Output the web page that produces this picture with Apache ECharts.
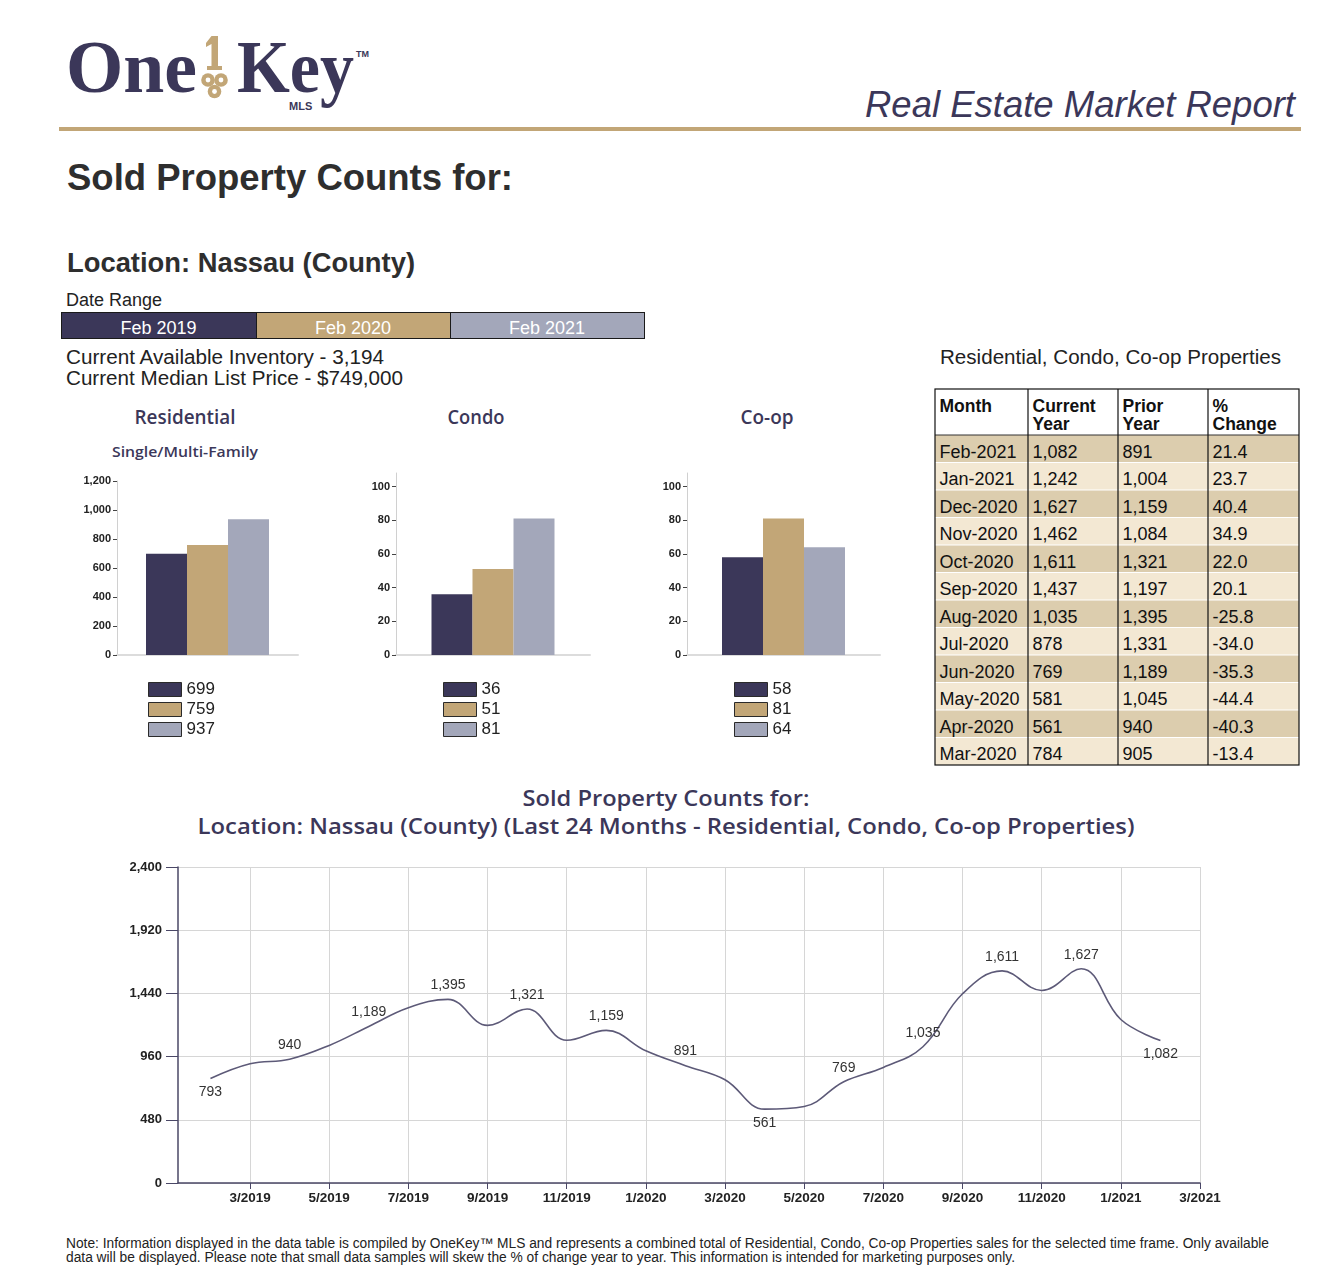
<!DOCTYPE html>
<html>
<head>
<meta charset="utf-8">
<script src="https://cdn.jsdelivr.net/npm/echarts@6/dist/echarts.min.js"></script>
<style>
  html, body { margin: 0; padding: 0; background: #ffffff; }
  #page { position: relative; width: 1329px; height: 1272px; overflow: hidden; background: #fff; }
  #overlay { position: absolute; left: 0; top: 0; }
  .chart { position: absolute; }
</style>
</head>
<body>
<div id="page">
  <svg id="overlay" width="1329" height="1272" xmlns="http://www.w3.org/2000/svg"></svg>
  <div id="resChart" class="chart" style="left:40px;top:460px;width:280px;height:320px;"></div>
  <div id="condoChart" class="chart" style="left:330px;top:460px;width:280px;height:320px;"></div>
  <div id="coopChart" class="chart" style="left:620px;top:460px;width:280px;height:320px;"></div>
  <div id="lineChart" class="chart" style="left:0px;top:840px;width:1329px;height:390px;"></div>
</div>
<script>
// ---------------- DATA ----------------
const dateRanges = ['Feb 2019', 'Feb 2020', 'Feb 2021'];

const residentialValues = [699, 759, 937];
const condoValues = [36, 51, 81];
const coopValues = [58, 81, 64];

const residentialTicks = [0, 200, 400, 600, 800, 1000, 1200];
const smallTicks = [0, 20, 40, 60, 80, 100];

const tableHeaders = [['Month'], ['Current', 'Year'], ['Prior', 'Year'], ['%', 'Change']];
const tableMonths = ['Feb-2021', 'Jan-2021', 'Dec-2020', 'Nov-2020', 'Oct-2020', 'Sep-2020',
                     'Aug-2020', 'Jul-2020', 'Jun-2020', 'May-2020', 'Apr-2020', 'Mar-2020'];
const tableCurrent = [1082, 1242, 1627, 1462, 1611, 1437, 1035, 878, 769, 581, 561, 784];
const tablePrior   = [891, 1004, 1159, 1084, 1321, 1197, 1395, 1331, 1189, 1045, 940, 905];
const tableChange  = ['21.4', '23.7', '40.4', '34.9', '22.0', '20.1', '-25.8', '-34.0', '-35.3', '-44.4', '-40.3', '-13.4'];

const lineMonths = ['2/2019', '3/2019', '4/2019', '5/2019', '6/2019', '7/2019', '8/2019', '9/2019',
                    '10/2019', '11/2019', '12/2019', '1/2020', '2/2020', '3/2020', '4/2020', '5/2020',
                    '6/2020', '7/2020', '8/2020', '9/2020', '10/2020', '11/2020', '12/2020', '1/2021', '2/2021'];
const lineValues = [793, 905, 940, 1045, 1189, 1331, 1395, 1197, 1321, 1084, 1159, 1004, 891,
                    784, 561, 581, 769, 878, 1035, 1437, 1611, 1462, 1627, 1242, 1082];
const xTickLabels = ['3/2019', '5/2019', '7/2019', '9/2019', '11/2019', '1/2020', '3/2020',
                     '5/2020', '7/2020', '9/2020', '11/2020', '1/2021', '3/2021'];

// ---------------- STYLE ----------------
const NAVY = '#3b3759', GOLD = '#c2a677', GRAY = '#a3a7ba';
const seriesColors = [NAVY, GOLD, GRAY];
const SANS = "'Liberation Sans', Arial, sans-serif";
const TITLE_FONT = "'Open Sans', 'Noto Sans', sans-serif";
const labelsBelow = new Set(['2/2019', '4/2020', '2/2021']);

const fmt = v => Number(v).toLocaleString('en-US');
const monthIndex = s => { const [m, y] = s.split('/').map(Number); return (y - 2019) * 12 + (m - 1); };

// ---------------- STATIC OVERLAY (SVG text) ----------------
const svg = document.getElementById('overlay');
const NS = 'http://www.w3.org/2000/svg';
function add(tag, attrs, text) {
  const e = document.createElementNS(NS, tag);
  for (const k in attrs) e.setAttribute(k, attrs[k]);
  if (text != null) e.textContent = text;
  svg.appendChild(e);
  return e;
}
function txt(x, y, s, o) {
  o = o || {};
  const a = { x: x, y: y, 'font-family': o.family || SANS, 'font-size': o.size || 18,
              fill: o.fill || '#222' };
  if (o.weight) a['font-weight'] = o.weight;
  if (o.style) a['font-style'] = o.style;
  if (o.anchor) a['text-anchor'] = o.anchor;
  if (o.len) { a.textLength = o.len; a.lengthAdjust = 'spacingAndGlyphs'; }
  return add('text', a, s);
}

// Logo
const SERIF = "'Liberation Serif', 'DejaVu Serif', serif";
txt(66, 92, 'One', { family: SERIF, size: 75, weight: 'bold', fill: NAVY, len: 131 });
txt(237, 92, 'Key', { family: SERIF, size: 75, weight: 'bold', fill: NAVY, len: 117 });
// key shaft ("1")
add('path', { d: 'M211.5 36 L218 36 L218 66 L222 66 L222 70 L207 70 L207 66 L211.5 66 L211.5 44 L206 47 L206 43 Z', fill: GOLD });
[[208, 80], [221, 80], [214.5, 91.5]].forEach(([cx, cy]) => add('circle', { cx: cx, cy: cy, r: 6.8, fill: GOLD }));
[[208, 80], [221, 80], [214.5, 91.5]].forEach(([cx, cy]) => add('circle', { cx: cx, cy: cy, r: 2.4, fill: '#ffffff' }));
txt(356, 57, 'TM', { size: 9, weight: 'bold', fill: NAVY });
txt(289, 110, 'MLS', { size: 11, weight: 'bold', fill: NAVY });

// Header right + rule
txt(1295, 117, 'Real Estate Market Report', { size: 36, style: 'italic', fill: NAVY, anchor: 'end', len: 430 });
add('rect', { x: 59, y: 127, width: 1242, height: 4, fill: GOLD });

// Headings
txt(67, 190, 'Sold Property Counts for:', { size: 36, weight: 'bold', fill: '#2e2e2e', len: 446 });
txt(67, 272, 'Location: Nassau (County)', { size: 27, weight: 'bold', fill: '#2e2e2e', len: 348 });
txt(66, 306, 'Date Range', { size: 18, fill: '#222' });

// Date range boxes
const boxX = [61, 256, 450, 644];
dateRanges.forEach((d, i) => {
  add('rect', { x: boxX[i] + 0.5, y: 312.5, width: boxX[i + 1] - boxX[i], height: 26, fill: seriesColors[i], stroke: '#1a1a1a', 'stroke-width': 1 });
  txt((boxX[i] + boxX[i + 1]) / 2, 333.5, d, { size: 18, fill: '#ffffff', anchor: 'middle' });
});

txt(66, 364, 'Current Available Inventory - 3,194', { size: 20, fill: '#222', len: 318 });
txt(66, 385, 'Current Median List Price - $749,000', { size: 20, fill: '#222', len: 337 });
txt(940, 364, 'Residential, Condo, Co-op Properties', { size: 20, fill: '#222', len: 341 });

// Bar chart titles
txt(185, 424, 'Residential', { family: TITLE_FONT, size: 19, weight: 600, fill: NAVY, anchor: 'middle', len: 101 });
txt(185, 457, 'Single/Multi-Family', { family: TITLE_FONT, size: 15, weight: 600, fill: NAVY, anchor: 'middle', len: 146 });
txt(476, 424, 'Condo', { family: TITLE_FONT, size: 19, weight: 600, fill: NAVY, anchor: 'middle', len: 57 });
txt(767, 424, 'Co-op', { family: TITLE_FONT, size: 19, weight: 600, fill: NAVY, anchor: 'middle', len: 53 });

// Line chart titles
txt(666, 806, 'Sold Property Counts for:', { family: TITLE_FONT, size: 22, weight: 600, fill: NAVY, anchor: 'middle', len: 287 });
txt(666, 834, 'Location: Nassau (County) (Last 24 Months - Residential, Condo, Co-op Properties)', { family: TITLE_FONT, size: 22, weight: 600, fill: NAVY, anchor: 'middle', len: 937 });

// Table
const colX = [935, 1028, 1118, 1208, 1299];
const tTop = 389, hdrBottom = 435, rowH = 27.5;
add('rect', { x: colX[0], y: tTop, width: colX[4] - colX[0], height: hdrBottom - tTop, fill: '#ffffff' });
tableMonths.forEach((m, i) => {
  const y = hdrBottom + i * rowH;
  add('rect', { x: colX[0], y: y, width: colX[4] - colX[0], height: rowH, fill: i % 2 === 0 ? '#dccdae' : '#f3e8d3' });
  if (i > 0) add('line', { x1: colX[0], x2: colX[4], y1: y, y2: y, stroke: '#ffffff', 'stroke-width': 1.2 });
  const cells = [m, fmt(tableCurrent[i]), fmt(tablePrior[i]), tableChange[i]];
  cells.forEach((c, j) => txt(colX[j] + 4.5, y + 22.5, c, { size: 18, fill: '#111' }));
});
tableHeaders.forEach((lines, j) => {
  lines.forEach((l, k) => txt(colX[j] + 4.5, 411.5 + k * 18, l, { size: 17.5, weight: 'bold', fill: '#111' }));
});
add('line', { x1: colX[0], x2: colX[4], y1: hdrBottom, y2: hdrBottom, stroke: '#333', 'stroke-width': 1 });
[1, 2, 3].forEach(j => add('line', { x1: colX[j], x2: colX[j], y1: tTop, y2: hdrBottom + 12 * rowH, stroke: '#111', 'stroke-width': 1.2 }));
add('rect', { x: colX[0], y: tTop, width: colX[4] - colX[0], height: hdrBottom + 12 * rowH - tTop, fill: 'none', stroke: '#111', 'stroke-width': 1.2 });

// Footer
const NARROW = "'Liberation Sans Narrow', 'Arial Narrow', 'Liberation Sans', sans-serif";
txt(66, 1248, 'Note: Information displayed in the data table is compiled by OneKey\u2122 MLS and represents a combined total of Residential, Condo, Co-op Properties sales for the selected time frame. Only available', { family: NARROW, size: 14, fill: '#222', len: 1203 });
txt(66, 1262, 'data will be displayed. Please note that small data samples will skew the % of change year to year. This information is intended for marketing purposes only.', { family: NARROW, size: 14, fill: '#222', len: 949 });

// ---------------- BAR CHARTS ----------------
function barChart(id, values, ticks, max, grid, legendPos) {
  const chart = echarts.init(document.getElementById(id), null, { renderer: 'canvas' });
  chart.setOption({
    animation: false,
    textStyle: { fontFamily: SANS },
    grid: grid,
    xAxis: {
      type: 'category', data: [''],
      axisLine: { lineStyle: { color: '#dcdcdc', width: 2 } },
      axisTick: { show: false }, axisLabel: { show: false }, splitLine: { show: false }
    },
    yAxis: {
      type: 'value', min: 0, max: max,
      axisLine: { show: true, lineStyle: { color: '#d0d0d0', width: 1 } },
      axisTick: { show: true, length: 4, customValues: ticks, lineStyle: { color: '#444' } },
      axisLabel: { customValues: ticks, formatter: v => fmt(v), fontSize: 11, fontWeight: 'bold', color: '#222', margin: 6, fontFamily: SANS },
      splitLine: { show: false }
    },
    legend: {
      orient: 'vertical', left: legendPos.left, top: legendPos.top, height: 80, padding: 0,
      itemWidth: 33, itemHeight: 14, itemGap: 3, icon: 'rect', selectedMode: false,
      itemStyle: { borderColor: '#2a2a2a', borderWidth: 1 },
      textStyle: { fontSize: 17, color: '#222', fontFamily: SANS },
      data: values.map(v => String(v))
    },
    series: values.map((v, i) => ({
      type: 'bar', name: String(v), data: [v], barWidth: 41, barGap: '0%',
      itemStyle: { color: seriesColors[i] }
    }))
  });
}
barChart('resChart', residentialValues, residentialTicks, 1200, { left: 77, top: 21, width: 181, height: 174 }, { left: 108, top: 221 });
barChart('condoChart', condoValues, smallTicks, 108, { left: 66, top: 13, width: 194, height: 182 }, { left: 113, top: 221 });
barChart('coopChart', coopValues, smallTicks, 108, { left: 67, top: 13, width: 193, height: 182 }, { left: 114, top: 221 });

// ---------------- LINE CHART ----------------
const xTickPos = xTickLabels.map(monthIndex);
const lineData = lineMonths.map((m, i) => ({
  value: [monthIndex(m), lineValues[i]],
  label: { show: i % 2 === 0, position: labelsBelow.has(m) ? 'bottom' : 'top', distance: 7 }
}));
const lineChart = echarts.init(document.getElementById('lineChart'), null, { renderer: 'canvas' });
lineChart.setOption({
  animation: false,
  textStyle: { fontFamily: SANS },
  grid: { left: 178, right: 129, top: 27, height: 316 },
  xAxis: {
    type: 'value', min: 0.18, max: 26,
    axisLine: { show: true, lineStyle: { color: '#4a4766', width: 1.5 } },
    axisTick: { show: true, length: 6, customValues: xTickPos, lineStyle: { color: '#4a4766' } },
    axisLabel: { customValues: xTickPos, formatter: v => xTickLabels[xTickPos.indexOf(Math.round(v))] || '',
                 fontSize: 13.5, fontWeight: 'bold', color: '#222', margin: 8, fontFamily: SANS },
    splitLine: { show: true, lineStyle: { color: '#d6d6d6', width: 1 } }
  },
  yAxis: {
    type: 'value', min: 0, max: 2400, interval: 480,
    axisLine: { show: true, lineStyle: { color: '#4a4766', width: 1.5 } },
    axisTick: { show: true, length: 12, lineStyle: { color: '#4a4766' } },
    axisLabel: { formatter: v => fmt(v), fontSize: 13, fontWeight: 'bold', color: '#222', margin: 16, fontFamily: SANS },
    splitLine: { show: true, lineStyle: { color: '#d6d6d6', width: 1 } }
  },
  series: [{
    type: 'line', data: lineData, smooth: 0.4, symbol: 'circle', symbolSize: 0.1, showSymbol: true, showAllSymbol: true,
    itemStyle: { color: 'rgba(0,0,0,0)' },
    lineStyle: { color: '#5d5a78', width: 1.6 },
    label: { formatter: p => fmt(p.value[1]), fontSize: 14, color: '#333', fontFamily: SANS }
  }]
});
</script>
</body>
</html>
